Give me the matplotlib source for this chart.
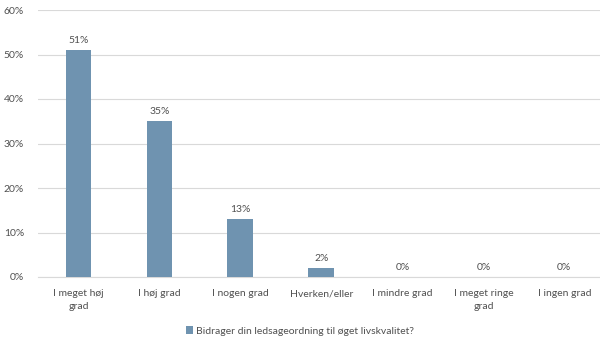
import numpy as np
import matplotlib as mpl
import matplotlib.pyplot as plt
from matplotlib.ticker import FuncFormatter

mpl.rcParams["font.family"] = ["Lato", "DejaVu Sans"]

categories = ["I meget høj\ngrad", "I høj grad", "I nogen grad", "Hverken/eller",
              "I mindre grad", "I meget ringe\ngrad", "I ingen grad"]
values = [51, 35, 13, 2, 0, 0, 0]
series_name = "Bidrager din ledsageordning til øget livskvalitet?"

bar_color = "#6f93b0"
text_color = "#505050"

fig = plt.figure(figsize=(6, 3.41), dpi=100)
ax = fig.add_axes([38 / 600, 1 - 277 / 341, 1 - 38 / 600, 267 / 341])

x = np.arange(len(categories))
ax.bar(x, values, width=0.32, color=bar_color, label=series_name, zorder=3)

# value labels above each bar
for xi, v in zip(x, values):
    ax.text(xi, v + 1.1, f"{v}%", ha="center", va="bottom", fontsize=7.5, color=text_color)

ax.set_ylim(0, 60)
ax.set_xlim(-0.5, 6.44)
ax.set_yticks(range(0, 61, 10))
ax.yaxis.set_major_formatter(FuncFormatter(lambda y, _: f"{int(y)}%"))
ax.grid(axis="y", color="#d9d9d9", linewidth=0.8, zorder=0)
ax.set_xticks(x)
ax.set_xticklabels(categories, fontsize=7.5, color=text_color, linespacing=1.5)
ax.tick_params(axis="y", labelsize=7.5, labelcolor=text_color, length=0, pad=10)
ax.tick_params(axis="x", length=0, pad=9)

for side in ["top", "right", "left"]:
    ax.spines[side].set_visible(False)
ax.spines["bottom"].set_color("#d9d9d9")

fig.legend(loc="center", bbox_to_anchor=(0.5, 1 - 331 / 341), frameon=False,
           fontsize=7.5, labelcolor=text_color, handlelength=0.7, handleheight=0.7,
           handletextpad=0.3)

fig.savefig("out.png", dpi=100)
